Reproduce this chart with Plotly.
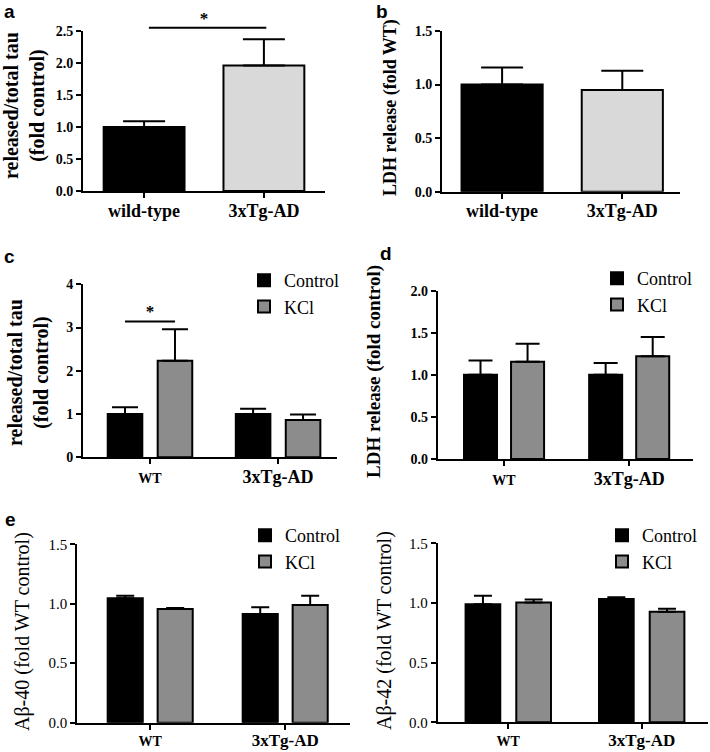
import plotly.graph_objects as go

W, H = 710, 752

# ---------------- data ----------------
# panel a: released/total tau (fold control)
tau_genotypes = ["wild-type", "3xTg-AD"]
tau_release_fold = [1.00, 1.96]
tau_release_sem = [0.09, 0.41]

# panel b: LDH release (fold WT)
ldh_genotypes = ["wild-type", "3xTg-AD"]
ldh_release_fold = [1.00, 0.95]
ldh_release_sem = [0.16, 0.18]

# panels c-f: Control vs KCl in WT and 3xTg-AD
groups = ["WT", "3xTg-AD"]
treatments = ["Control", "KCl"]

tau_kcl_control = [1.00, 1.00]
tau_kcl_control_sem = [0.16, 0.12]
tau_kcl_kcl = [2.23, 0.86]
tau_kcl_kcl_sem = [0.73, 0.13]

ldh_kcl_control = [1.00, 1.00]
ldh_kcl_control_sem = [0.17, 0.14]
ldh_kcl_kcl = [1.155, 1.22]
ldh_kcl_kcl_sem = [0.215, 0.23]

ab40_control = [1.046, 0.914]
ab40_control_sem = [0.022, 0.056]
ab40_kcl = [0.956, 0.99]
ab40_kcl_sem = [0.008, 0.078]

ab42_control = [0.99, 1.033]
ab42_control_sem = [0.07, 0.015]
ab42_kcl = [1.003, 0.927]
ab42_kcl_sem = [0.027, 0.025]

# significance markers (height in data units)
sig_a_height = 2.55
sig_c_height = 3.14

# ---------------- style ----------------
SERIF = "Liberation Serif"
SANS = "Liberation Sans"
BLACK = "#000000"
LIGHT = "#d9d9d9"
GREY = "#8c8c8c"


def px_x(p):
    return p / W


def px_y(p):
    return 1 - p / H


# pixel boxes: x0, x1, ytop, ybottom
panels = {
    "a": dict(box=(83, 325, 31, 191), xr=[-0.51, 1.51], yr=[0, 2.5], dtick=0.5, fmt=".1f"),
    "b": dict(box=(442, 680, 31, 191.7), xr=[-0.5, 1.48], yr=[0, 1.5], dtick=0.5, fmt=".1f"),
    "c": dict(box=(83, 337, 284.3, 457.3), xr=[-0.523, 1.46], yr=[0, 4], dtick=1, fmt="d"),
    "d": dict(box=(437.7, 693, 290.7, 459), xr=[-0.53, 1.51], yr=[0, 2], dtick=0.5, fmt=".1f"),
    "e": dict(box=(77.3, 350, 544.3, 722.7), xr=[-0.54, 1.48], yr=[0, 1.5], dtick=0.5, fmt=".1f"),
    "f": dict(box=(437.7, 708, 543.3, 722.3), xr=[-0.529, 1.497], yr=[0, 1.5], dtick=0.5, fmt=".1f"),
}
order = ["a", "b", "c", "d", "e", "f"]

fig = go.Figure()
layout = dict(
    width=W, height=H,
    margin=dict(l=0, r=0, t=0, b=0, autoexpand=False),
    paper_bgcolor="white", plot_bgcolor="rgba(0,0,0,0)",
    barmode="overlay",
    showlegend=True,
    annotations=[],
)

for i, key in enumerate(order):
    p = panels[key]
    x0, x1, yt, yb = p["box"]
    n = "" if i == 0 else str(i + 1)
    bold_ticks = key in ("a", "b", "c", "d")
    bottom_row = key in ("e", "f")
    layout["xaxis" + n] = dict(
        domain=[px_x(x0), px_x(x1)], range=p["xr"], anchor="y" + n,
        showline=True, linecolor=BLACK, linewidth=2, showgrid=False, zeroline=False,
        ticks="outside", ticklen=5, tickwidth=2, tickcolor=BLACK,
        tickmode="array", tickvals=[0, 1], automargin=False,
        ticklabelstandoff=-4 if bottom_row else -3,
        tickfont=dict(family=SERIF, size=17 if bottom_row else 18, color=BLACK, weight="bold"),
        fixedrange=True,
    )
    layout["yaxis" + n] = dict(
        domain=[px_y(yb), px_y(yt)], range=p["yr"], anchor="x" + n,
        showline=True, linecolor=BLACK, linewidth=2, showgrid=False, zeroline=False,
        ticks="outside", ticklen=5, tickwidth=2, tickcolor=BLACK, automargin=False,
        tick0=0, dtick=p["dtick"], tickformat=p["fmt"],
        tickfont=dict(family=SERIF, size=14 if bold_ticks else 15, color=BLACK,
                      weight="bold" if bold_ticks else "normal"),
        fixedrange=True,
    )

# invisible helper axis above panel a, same scale, to hold the significance bar
a_x0, a_x1, a_yt, a_yb = panels["a"]["box"]
sig_top_px = 14
a_units_per_px = (panels["a"]["yr"][1] - panels["a"]["yr"][0]) / (a_yb - a_yt)
layout["yaxis7"] = dict(
    domain=[px_y(a_yb), px_y(sig_top_px)],
    range=[0, (a_yb - sig_top_px) * a_units_per_px],
    anchor="x", visible=False, fixedrange=True,
)

# ticktext per panel
layout["xaxis"]["ticktext"] = tau_genotypes
layout["xaxis2"]["ticktext"] = ldh_genotypes
for n in ["3", "4", "5", "6"]:
    layout["xaxis" + n]["ticktext"] = [
        "<span style='font-size:14px'>" + groups[0] + "</span>", groups[1]]


def err(vals):
    return dict(type="data", symmetric=False, array=vals, arrayminus=[0] * len(vals),
                color=BLACK, thickness=2)


# ---- single-group panels a, b ----
for key, n, cats, vals, sems in [("a", "", tau_genotypes, tau_release_fold, tau_release_sem),
                                 ("b", "2", ldh_genotypes, ldh_release_fold, ldh_release_sem)]:
    w = 0.675
    e = err(sems)
    e["width"] = 21
    fig.add_trace(go.Bar(
        x=list(range(len(cats))), y=vals, width=w, offset=-w / 2,
        marker=dict(color=[BLACK, LIGHT], line=dict(color=BLACK, width=2)),
        error_y=e, xaxis="x" + n, yaxis="y" + n, showlegend=False,
        hovertext=cats,
    ))

# ---- grouped panels c-f ----
grouped = [
    ("c", "3", tau_kcl_control, tau_kcl_control_sem, tau_kcl_kcl, tau_kcl_kcl_sem, 0.27, 0.195, 13, "legend"),
    ("d", "4", ldh_kcl_control, ldh_kcl_control_sem, ldh_kcl_kcl, ldh_kcl_kcl_sem, 0.264, 0.188, 12, "legend2"),
    ("e", "5", ab40_control, ab40_control_sem, ab40_kcl, ab40_kcl_sem, 0.26, 0.185, 9, "legend3"),
    ("f", "6", ab42_control, ab42_control_sem, ab42_kcl, ab42_kcl_sem, 0.26, 0.19, 9, "legend4"),
]
centers = {}
for key, n, cv, cs, kv, ks, w, hs, capw, leg in grouped:
    xs = list(range(len(groups)))
    for name, vals, sems, col, off in [(treatments[0], cv, cs, BLACK, -hs - w / 2),
                                       (treatments[1], kv, ks, GREY, hs - w / 2)]:
        e = err(sems)
        e["width"] = capw
        fig.add_trace(go.Bar(
            x=xs, y=vals, width=w, offset=off, name=name,
            marker=dict(color=col, line=dict(color=BLACK, width=2)),
            error_y=e, xaxis="x" + n, yaxis="y" + n, legend=leg,
        ))
    centers[key] = (-hs, hs)

# ---- significance markers ----
star_font = dict(family=SERIF, size=17, color=BLACK, weight="bold")
fig.add_trace(go.Scatter(x=[0.04, 1.02], y=[sig_a_height] * 2, mode="lines",
                         line=dict(color=BLACK, width=2),
                         xaxis="x", yaxis="y7", showlegend=False, hoverinfo="skip"))
fig.add_trace(go.Scatter(x=[0.5], y=[sig_a_height], mode="text", text=["*"],
                         textposition="top center", cliponaxis=False, textfont=star_font,
                         xaxis="x", yaxis="y7", showlegend=False, hoverinfo="skip"))
cx0, cx1 = centers["c"]
fig.add_trace(go.Scatter(x=[cx0, cx1], y=[sig_c_height] * 2, mode="lines",
                         line=dict(color=BLACK, width=2), cliponaxis=False,
                         xaxis="x3", yaxis="y3", showlegend=False, hoverinfo="skip"))
fig.add_trace(go.Scatter(x=[(cx0 + cx1) / 2], y=[sig_c_height], mode="text", text=["*"],
                         textposition="top center", cliponaxis=False, textfont=star_font,
                         xaxis="x3", yaxis="y3", showlegend=False, hoverinfo="skip"))

# ---- legends ----
leg_font = dict(family=SERIF, size=18, color=BLACK)
for leg, (lx, ly) in {"legend": (244, 262), "legend2": (597, 260),
                      "legend3": (245, 517), "legend4": (602, 517)}.items():
    layout[leg] = dict(x=px_x(lx), y=px_y(ly), xanchor="left", yanchor="top",
                       font=leg_font, bgcolor="rgba(0,0,0,0)", borderwidth=0,
                       tracegroupgap=0, itemclick=False, itemdoubleclick=False)

# ---- y-axis titles (rotated) ----
titles = [
    ("released/total tau<br>(fold control)", 24, 106, "bold", 20),
    ("LDH release (fold WT)", 391, 108, "bold", 18),
    ("released/total tau<br>(fold control)", 28, 373, "bold", 20),
    ("LDH release (fold control)", 374, 372, "bold", 19),
    ("Aβ-40 (fold WT control)", 22, 632, "normal", 20),
    ("Aβ-42 (fold WT control)", 384, 630, "normal", 20),
]
for text, x, y, wt, sz in titles:
    layout["annotations"].append(dict(
        text=text, x=px_x(x), y=px_y(y), xref="paper", yref="paper",
        xanchor="center", yanchor="middle", textangle=-90, showarrow=False,
        font=dict(family=SERIF, size=sz, color=BLACK, weight=wt)))

# ---- panel letters ----
for letter, x, y in [("a", 2, 12), ("b", 374, 11), ("c", 2, 256), ("d", 378, 254), ("e", 3, 519)]:
    layout["annotations"].append(dict(
        text=letter, x=px_x(x), y=px_y(y), xref="paper", yref="paper",
        xanchor="left", yanchor="middle", showarrow=False,
        font=dict(family=SANS, size=19, color=BLACK, weight="bold")))

fig.update_layout(**layout)
# the page's default 8px body margin would shift the figure; remove it
fig.write_html("out.html", config={"displayModeBar": False},
               post_script="document.body.style.margin='0px';")
